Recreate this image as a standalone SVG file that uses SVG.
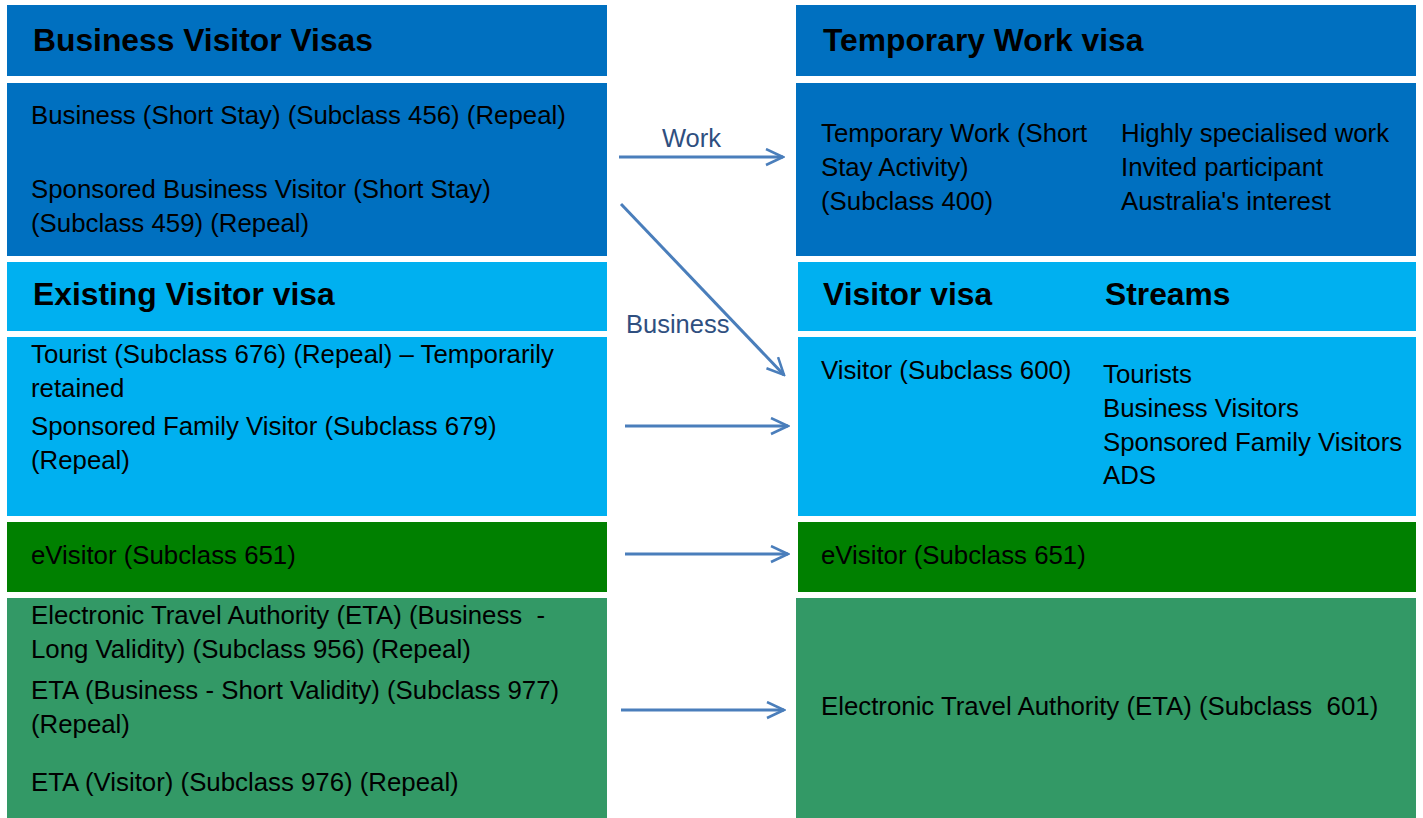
<svg xmlns="http://www.w3.org/2000/svg" width="1423" height="818" viewBox="0 0 1423 818">
<style>
.t{font-family:"Liberation Sans",Arial,sans-serif;font-size:25.8px;fill:#000}
.h{font-family:"Liberation Sans",Arial,sans-serif;font-size:31.8px;font-weight:bold;fill:#000}
.lbl{font-family:"Liberation Sans",Arial,sans-serif;font-size:25.5px;fill:#2F4F80}
.db{fill:#0070C0}.lb{fill:#00B0F0}.gr{fill:#008000}.sg{fill:#339966}
.c{stroke:#4A7EBB;stroke-width:3;fill:none}
</style>
<defs>
<marker id="ah" markerWidth="20" markerHeight="20" refX="18" refY="9" orient="auto" markerUnits="userSpaceOnUse">
<path d="M1,1 L18,9 L1,17" fill="none" stroke="#4A7EBB" stroke-width="2.5"/>
</marker>
</defs>
<rect width="1423" height="818" fill="#fff"/>
<g id="bvv-header"><rect class="db" x="7" y="5" width="600" height="71"/><text class="h" x="33" y="51">Business Visitor Visas</text></g>
<g id="bvv-body"><rect class="db" x="7" y="83" width="600" height="173"/>
<text class="t" x="31" y="124">Business (Short Stay) (Subclass 456) (Repeal)</text>
<text class="t" x="31" y="198">Sponsored Business Visitor (Short Stay)</text>
<text class="t" x="31" y="232">(Subclass 459) (Repeal)</text></g>
<g id="tw-header"><rect class="db" x="796" y="5" width="620" height="71"/><text class="h" x="823" y="51">Temporary Work visa</text></g>
<g id="tw-body"><rect class="db" x="796" y="83" width="620" height="173"/>
<text class="t" x="821" y="142">Temporary Work (Short</text>
<text class="t" x="821" y="176">Stay Activity)</text>
<text class="t" x="821" y="210">(Subclass 400)</text>
<text class="t" x="1121" y="142">Highly specialised work</text>
<text class="t" x="1121" y="176">Invited participant</text>
<text class="t" x="1121" y="210">Australia's interest</text></g>
<g id="ev-header"><rect class="lb" x="7" y="262" width="600" height="69"/><text class="h" x="33" y="305">Existing Visitor visa</text></g>
<g id="ev-body"><rect class="lb" x="7" y="337" width="600" height="179"/>
<text class="t" x="31" y="363">Tourist (Subclass 676) (Repeal) – Temporarily</text>
<text class="t" x="31" y="397">retained</text>
<text class="t" x="31" y="435">Sponsored Family Visitor (Subclass 679)</text>
<text class="t" x="31" y="469">(Repeal)</text></g>
<g id="vv-header"><rect class="lb" x="798" y="262" width="618" height="69"/><text class="h" x="823" y="305">Visitor visa</text><text class="h" x="1105" y="305">Streams</text></g>
<g id="vv-body"><rect class="lb" x="798" y="337" width="618" height="179"/>
<text class="t" x="821" y="379">Visitor (Subclass 600)</text>
<text class="t" x="1103" y="383">Tourists</text>
<text class="t" x="1103" y="417">Business Visitors</text>
<text class="t" x="1103" y="451">Sponsored Family Visitors</text>
<text class="t" x="1103" y="484">ADS</text></g>
<g id="evis-left"><rect class="gr" x="7" y="522" width="600" height="70"/><text class="t" x="31" y="564">eVisitor (Subclass 651)</text></g>
<g id="evis-right"><rect class="gr" x="798" y="522" width="618" height="70"/><text class="t" x="821" y="564">eVisitor (Subclass 651)</text></g>
<g id="eta-left"><rect class="sg" x="7" y="598" width="600" height="220"/>
<text class="t" x="31" y="624" xml:space="preserve">Electronic Travel Authority (ETA) (Business  -</text>
<text class="t" x="31" y="658">Long Validity) (Subclass 956) (Repeal)</text>
<text class="t" x="31" y="699">ETA (Business - Short Validity) (Subclass 977)</text>
<text class="t" x="31" y="733">(Repeal)</text>
<text class="t" x="31" y="791">ETA (Visitor) (Subclass 976) (Repeal)</text></g>
<g id="eta-right"><rect class="sg" x="796" y="598" width="620" height="220"/>
<text class="t" x="821" y="715" xml:space="preserve">Electronic Travel Authority (ETA) (Subclass  601)</text></g>
<g id="connectors">
<line class="c" x1="619" y1="157" x2="783" y2="157" marker-end="url(#ah)"/>
<text class="lbl" x="662" y="147">Work</text>
<line class="c" x1="621" y1="204" x2="784" y2="375" stroke-width="2" marker-end="url(#ah)"/>
<text class="lbl" x="626" y="333">Business</text>
<line class="c" x1="625" y1="426" x2="788" y2="426" marker-end="url(#ah)"/>
<line class="c" x1="625" y1="554" x2="788" y2="554" marker-end="url(#ah)"/>
<line class="c" x1="621" y1="710" x2="784" y2="710" marker-end="url(#ah)"/>
</g>
</svg>
